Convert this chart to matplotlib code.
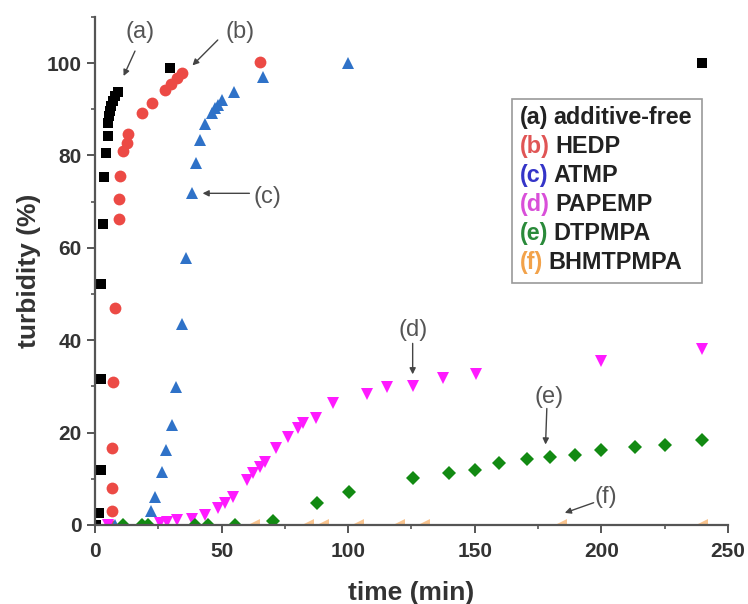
import matplotlib
matplotlib.use("Agg")
import matplotlib.pyplot as plt
from matplotlib.patches import Rectangle
from matplotlib.ticker import MultipleLocator

plt.rcParams['font.family'] = ['Liberation Sans', 'DejaVu Sans']

# ---- data ----
a_x = [0.5, 1.7, 2.2, 2.2, 2.2, 3.3, 3.6, 4.3, 5.3, 5.2, 5.6, 6.0, 6.5, 7.0, 8.0, 9.2, 29.6, 240]
a_y = [0, 2.5, 11.8, 31.5, 52.1, 65.2, 75.4, 80.6, 84.2, 87.0, 88.5, 89.7, 90.8, 91.8, 92.8, 93.8, 99.0, 100]

b_x = [6.0, 6.6, 6.6, 6.8, 7.2, 7.9, 9.6, 9.6, 9.9, 11.2, 12.5, 13.2, 18.4, 22.4, 27.6, 30.0, 32.3, 34.2, 65.2]
b_y = [0, 2.9, 7.9, 16.6, 31.0, 46.9, 66.2, 70.6, 75.5, 81.0, 82.6, 84.6, 89.2, 91.3, 94.2, 95.4, 96.7, 97.8, 100.3]

c_x = [8, 18, 22.0, 23.7, 26.3, 28.0, 30.3, 32.0, 34.2, 35.9, 38.2, 39.9, 41.5, 43.4, 46.1, 47.4, 48.7, 50.0, 54.9, 66.5, 100]
c_y = [0, 0, 3.0, 6.0, 11.5, 16.2, 21.6, 29.8, 43.5, 57.9, 71.9, 78.3, 83.3, 86.9, 89.1, 90.2, 90.9, 92.0, 93.8, 96.9, 100]

d_x = [5, 25.7, 28.5, 32.3, 38.2, 43.4, 48.7, 51.3, 54.6, 59.9, 62.5, 65.2, 67.1, 71.5, 76.3, 80.3, 82.3, 87.3,
       94.1, 107.3, 115.2, 125.5, 137.3, 150.7, 200, 240]
d_y = [0, 0.3, 0.6, 1.0, 1.2, 2.2, 3.6, 4.7, 6.1, 9.7, 11.2, 12.6, 13.7, 16.6, 19.0, 20.9, 22.0, 23.1,
       26.3, 28.3, 29.8, 30.1, 31.9, 32.7, 35.5, 38.1]

e_x = [11.2, 18.4, 21.1, 39.5, 44.8, 55.3, 70.4, 87.6, 100.4, 125.7, 139.9, 150.1, 159.7, 170.5, 179.7,
       189.6, 200.1, 213.3, 225.1, 239.9]
e_y = [0, 0, 0, 0, 0, 0, 0.8, 4.8, 7.2, 10.1, 11.2, 11.9, 13.4, 14.2, 14.8, 15.2, 16.2, 16.8, 17.3, 18.4]

f_x = [63, 84, 90, 104, 120, 130, 184, 240]
f_y = [0, 0, 0, 0, 0, 0, 0, 0]

legend_tags = ["(a)", "(b)", "(c)", "(d)", "(e)", "(f)"]
legend_names = ["additive-free", "HEDP", "ATMP", "PAPEMP", "DTPMPA", "BHMTPMPA"]

x_ticks = [0, 50, 100, 150, 200, 250]
y_ticks = [0, 20, 40, 60, 80, 100]

# annotation: label, text position, arrow tail, arrow tip
ann_labels = ["(a)", "(b)", "(c)", "(d)", "(e)", "(f)"]
ann_text = [(17.8, 106.7), (57.3, 106.7), (68.3, 71.0), (125.7, 42.2), (179.5, 27.6), (202.0, 6.1)]
ann_tail = [(15.8, 102.6), (48.5, 105.0), (61.0, 71.8), (125.5, 39.3), (178.5, 25.2), (197.0, 4.8)]
ann_tip = [(11.3, 97.2), (38.5, 99.5), (42.5, 71.8), (125.5, 32.6), (178.0, 17.4), (185.6, 2.6)]

# ---- styling ----
series = [
    (a_x, a_y, 's', '#000000', 7.5),
    (b_x, b_y, 'o', '#ec4a45', 8.5),
    (c_x, c_y, '^', '#2f72c8', 9),
    (d_x, d_y, 'v', '#ff1aff', 9),
    (e_x, e_y, 'D', '#128a12', 7),
    (f_x, f_y, '<', '#f9c48e', 8),
]
tag_colors = ['#222222', '#e05555', '#3535c8', '#d94fd9', '#2a8a3a', '#f2a24a']

fig = plt.figure(figsize=(7.48, 6.04), dpi=100)
ax = fig.add_axes([0.127, 0.131, 0.846, 0.841])

for xs, ys, m, c, ms in series:
    ax.plot(xs, ys, linestyle='none', marker=m, color=c, markersize=ms, markeredgewidth=0)

ax.set_xlim(0, 250)
ax.set_ylim(0, 110)
ax.set_xticks(x_ticks)
ax.set_yticks(y_ticks)
ax.xaxis.set_minor_locator(MultipleLocator(25))
ax.yaxis.set_minor_locator(MultipleLocator(10))

for s in ['top', 'right']:
    ax.spines[s].set_visible(False)
for s in ['left', 'bottom']:
    ax.spines[s].set_color('#555555')
    ax.spines[s].set_linewidth(1.6)

ax.tick_params(which='major', direction='out', length=5.5, width=1.4, color='#555555',
               labelsize=15, labelcolor='#333333')
ax.tick_params(axis='x', which='major', pad=7)
ax.tick_params(axis='y', which='major', pad=4)
ax.tick_params(which='minor', direction='out', length=3, width=1.2, color='#555555')
for lbl in ax.get_xticklabels() + ax.get_yticklabels():
    lbl.set_fontweight('bold')

ax.set_xlabel('time (min)', fontsize=19, fontweight='bold', color='#333333', labelpad=14)
ax.set_ylabel('turbidity (%)', fontsize=19, fontweight='bold', color='#333333', labelpad=4)

# annotations
for lab, tp, tl, tip in zip(ann_labels, ann_text, ann_tail, ann_tip):
    ax.text(tp[0], tp[1], lab, fontsize=17, color='#555555', ha='center', va='center')
    ax.annotate('', xy=tip, xytext=tl,
                arrowprops=dict(arrowstyle='-|>', color='#444444', lw=1.0,
                                mutation_scale=9, shrinkA=0, shrinkB=0))

# legend box
ax.add_patch(Rectangle((0.659, 0.476), 0.300, 0.363, transform=ax.transAxes,
                       facecolor='white', edgecolor='#9a9a9a', lw=1.2, zorder=5))
ys_leg = [0.801, 0.744, 0.687, 0.630, 0.573, 0.516]
for tag, name, col, yl in zip(legend_tags, legend_names, tag_colors, ys_leg):
    t1 = ax.text(0.671, yl, tag, transform=ax.transAxes, fontsize=16.8, fontweight='bold',
                 color=col, ha='left', va='center', zorder=6)
    ax.annotate(name, xy=(1, 0), xycoords=t1, xytext=(4, 0), textcoords='offset points',
                fontsize=16.8, fontweight='bold', color='#222222', ha='left', va='bottom', zorder=6)

fig.savefig('out.png', dpi=100)
